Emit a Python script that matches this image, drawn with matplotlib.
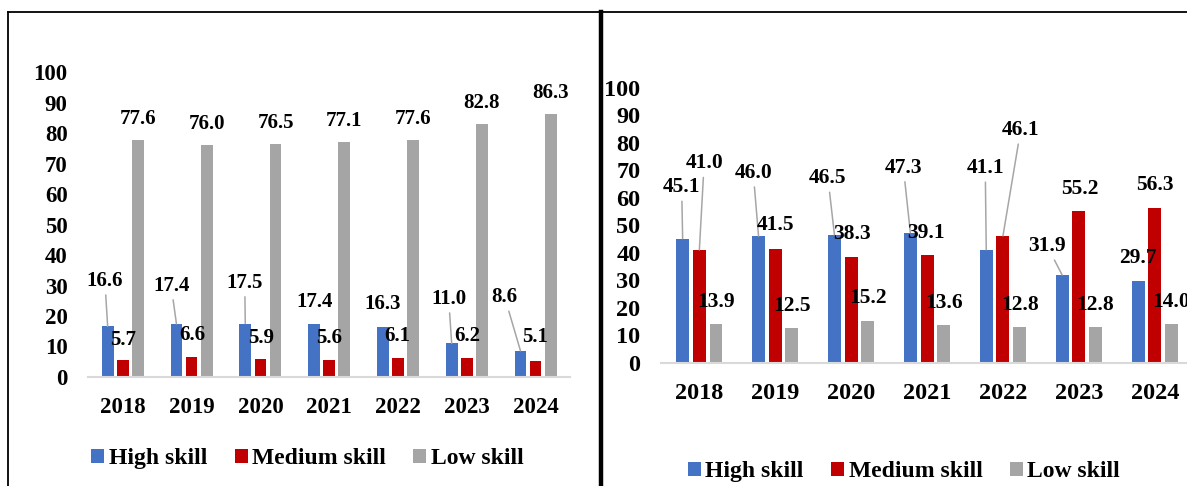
"""Skill-level shares 2018-2024, two side-by-side bar panels."""

import matplotlib

matplotlib.use("Agg")
import matplotlib.pyplot as plt
import numpy as np
from matplotlib.lines import Line2D

YEARS = ["2018", "2019", "2020", "2021", "2022", "2023", "2024"]
SERIES = ["High skill", "Medium skill", "Low skill"]

LEFT_HIGH = [16.6, 17.4, 17.5, 17.4, 16.3, 11.0, 8.6]
LEFT_MEDIUM = [5.7, 6.6, 5.9, 5.6, 6.1, 6.2, 5.1]
LEFT_LOW = [77.6, 76.0, 76.5, 77.1, 77.6, 82.8, 86.3]

RIGHT_HIGH = [45.1, 46.0, 46.5, 47.3, 41.1, 31.9, 29.7]
RIGHT_MEDIUM = [41.0, 41.5, 38.3, 39.1, 46.1, 55.2, 56.3]
RIGHT_LOW = [13.9, 12.5, 15.2, 13.6, 12.8, 12.8, 14.0]

COLORS = ["#4472C4", "#C00000", "#A5A5A5"]
LEADER = "#A6A6A6"
BASELINE = "#D9D9D9"

# label offsets from the bar top in pixels (dx, dy) and whether a leader line is drawn
LEFT_LABELS = [
    [(-2.8, 45.6, True), (-5.3, 38.3, True), (-0.5, 41, True), (0, 22, False),
     (0, 23.3, False), (-3, 44.7, True), (-15.8, 53.7, True)],
    [(0.5, 20, False), (0.4, 22.3, False), (0.3, 21, False), (0, 22.3, False),
     (-0.8, 22.7, False), (0, 22.3, False), (-0.5, 24, False)],
    [(0, 21, False)] * 7,
]
RIGHT_LABELS = [
    [(-1, 51.6, True), (-5.3, 63.4, True), (-6.5, 56.7, True), (-7, 65, True),
     (-1, 81.7, True), (-15, 29, True), (0, 22.7, False)],
    [(4.8, 86.7, True), (0, 23.3, False), (0.5, 23, False), (-0.8, 21.7, False),
     (17.7, 106, True), (0.5, 22.3, False), (0.3, 22.7, False)],
    [(0, 22.5, False)] * 7,
]

W, H = 1187, 486
BAR_W = 0.17
BAR_STEP = 0.22

plt.rcParams.update({
    "font.family": ["Liberation Serif", "DejaVu Serif"],
    "font.weight": "bold",
})


def draw_panel(fig, rect, values, labels, tick_size, label_size, legend_xy):
    ax = fig.add_axes(rect)
    x = np.arange(len(YEARS))
    bars = []
    for i, (vals, color) in enumerate(zip(values, COLORS)):
        pos = x + (i - 1) * BAR_STEP
        b = ax.bar(pos, vals, width=BAR_W, color=color, label=SERIES[i], zorder=2)
        bars.append(b)
        for xp, v, (dx, dy, lead) in zip(pos, vals, labels[i]):
            kw = {}
            if lead:
                kw["arrowprops"] = dict(arrowstyle="-", color=LEADER, lw=1.1,
                                        shrinkA=1, shrinkB=0)
            ax.annotate(f"{v:.1f}", xy=(xp, v), xytext=(dx, dy),
                        textcoords="offset pixels", ha="center", va="center",
                        fontsize=label_size, fontweight="bold",
                        annotation_clip=False, zorder=4, **kw)

    ax.set_xlim(-0.5, len(YEARS) - 0.5)
    ax.set_ylim(0, 100)
    ax.set_yticks(range(0, 101, 10))
    ax.set_xticks(x)
    ax.set_xticklabels(YEARS)
    ax.tick_params(axis="both", length=0, labelsize=tick_size)
    ax.tick_params(axis="y", pad=15)
    ax.tick_params(axis="x", pad=14.5)
    for name, spine in ax.spines.items():
        spine.set_visible(name == "bottom")
    ax.spines["bottom"].set_color(BASELINE)
    ax.spines["bottom"].set_linewidth(1.5)
    ax.spines["bottom"].set_zorder(3)
    ax.set_facecolor("none")

    fig.legend(handles=bars, loc="center", bbox_to_anchor=legend_xy, ncol=3,
               frameon=False, fontsize=17, handlelength=0.55, handleheight=0.55,
               handletextpad=0.2, columnspacing=1.15, borderpad=0)
    return ax


def main():
    fig = plt.figure(figsize=(W / 100, H / 100), dpi=100)
    fig.patch.set_facecolor("white")

    draw_panel(fig, [88.4 / W, 1 - 377 / H, 481.6 / W, 305 / H],
               [LEFT_HIGH, LEFT_MEDIUM, LEFT_LOW], LEFT_LABELS,
               16.5, 15, (307.5 / W, 1 - 458.5 / H))
    draw_panel(fig, [661.4 / W, 1 - 362.7 / H, 531.3 / W, 275 / H],
               [RIGHT_HIGH, RIGHT_MEDIUM, RIGHT_LOW], RIGHT_LABELS,
               17.5, 15.5, (904 / W, 1 - 471.5 / H))

    # panel frames
    top = 1 - 12.5 / H
    fig.add_artist(Line2D([8 / W, 1], [top, top], color="black", lw=1.3))
    fig.add_artist(Line2D([8 / W, 8 / W], [0, top], color="black", lw=1.3))
    fig.add_artist(Line2D([600.7 / W, 600.7 / W], [0, top], color="black", lw=3.2))

    fig.savefig("out.png", dpi=100)


if __name__ == "__main__":
    main()
